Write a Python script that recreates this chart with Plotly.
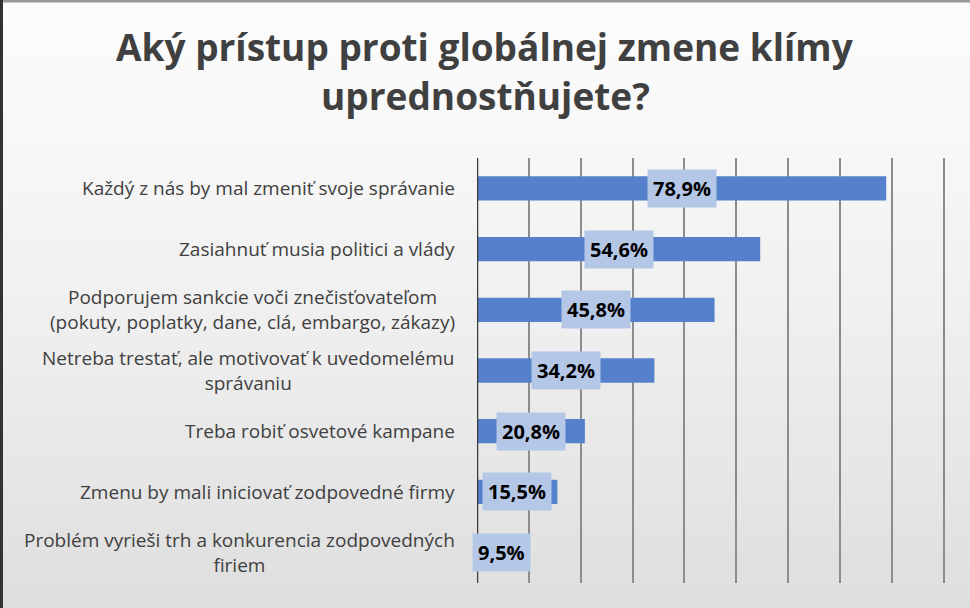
import plotly.graph_objects as go

categories = [
    "Každý z nás by mal zmeniť svoje správanie",
    "Zasiahnuť musia politici a vlády",
    "Podporujem sankcie voči znečisťovateľom<br>(pokuty, poplatky, dane, clá, embargo, zákazy)",
    "Netreba trestať, ale motivovať k uvedomelému<br>správaniu",
    "Treba robiť osvetové kampane",
    "Zmenu by mali iniciovať zodpovedné firmy",
    "Problém vyrieši trh a konkurencia zodpovedných<br>firiem",
]
values = [78.9, 54.6, 45.8, 34.2, 20.8, 15.5, 9.5]
title_lines = ["Aký prístup proti globálnej zmene klímy", "uprednostňujete?"]

W, H = 970, 608
L, R, T, B = 477, 21, 158, 25
PW, PH = W - L - R, H - T - B
FONT = "Open Sans"

def px_x(px):
    return (px - L) / PW

def px_y(py):
    return (H - B - py) / PH

fig = go.Figure()
fig.add_trace(go.Bar(
    x=values, y=categories, orientation="h",
    marker=dict(color="#5580cb", line=dict(width=0)),
    width=0.4, hoverinfo="skip",
))

shapes = []
n = 64
for i in range(n):
    y0 = H * i / n
    y1 = H * (i + 1) / n
    t = (i + 0.5) / n
    g = int(round(252 - 30 * t ** 1.3))
    shapes.append(dict(
        type="rect", xref="paper", yref="paper", layer="below",
        x0=px_x(-2), x1=px_x(W + 2), y0=px_y(y1 + 0.5), y1=px_y(y0 - 0.5),
        fillcolor=f"rgb({g},{g},{g})", line=dict(width=0),
    ))
# borders
shapes.append(dict(type="rect", xref="paper", yref="paper", layer="above",
                   x0=px_x(-2), x1=px_x(W + 2), y0=px_y(2.5), y1=px_y(-2),
                   fillcolor="#9a9a9a", line=dict(width=0)))
shapes.append(dict(type="rect", xref="paper", yref="paper", layer="above",
                   x0=px_x(-2), x1=px_x(3), y0=px_y(H + 2), y1=px_y(-2),
                   fillcolor="#333333", line=dict(width=0)))

annotations = []
for c, v in zip(categories, values):
    annotations.append(dict(
        x=v / 2, y=c, xref="x", yref="y",
        text="<b>" + f"{v:.1f}%".replace(".", ",") + "</b>",
        showarrow=False, bgcolor="#b4c7e7", borderpad=5,
        font=dict(family=FONT, size=20, color="#000000"),
    ))
    annotations.append(dict(
        x=0, y=c, xref="x", yref="y", xanchor="right", xshift=-20,
        text=c, showarrow=False, align="center",
        font=dict(family=FONT, size=19, color="#404040"),
    ))
for line, ymid in zip(title_lines, [46, 96]):
    annotations.append(dict(
        x=0.5, xref="paper", xanchor="center", xshift=(W / 2 - (L + PW / 2)),
        y=px_y(ymid), yref="paper", yanchor="middle",
        text="<b>" + line + "</b>", showarrow=False,
        font=dict(family=FONT, size=37, color="#404040"),
    ))

fig.update_layout(
    width=W, height=H,
    margin=dict(l=L, r=R, t=T, b=B, pad=0),
    paper_bgcolor="#ececec", plot_bgcolor="rgba(0,0,0,0)",
    xaxis=dict(range=[0, 91], dtick=10, tick0=0, showticklabels=False,
               showgrid=True, gridcolor="#8c8c8c", gridwidth=1.5,
               zeroline=False, showline=False, ticks="", fixedrange=True),
    yaxis=dict(autorange="reversed", showticklabels=False, ticks="",
               showgrid=False, zeroline=False, showline=False),
    shapes=shapes,
    annotations=annotations,
    showlegend=False,
    bargap=0.6,
)
fig.add_shape(type="line", xref="x", yref="paper", x0=0, x1=0, y0=0, y1=1,
              line=dict(color="#3a3a3a", width=2.5), layer="above")

fig.write_html("out.html", config={"displayModeBar": False},
               post_script="document.body.style.margin='0';document.body.style.overflow='hidden';")
